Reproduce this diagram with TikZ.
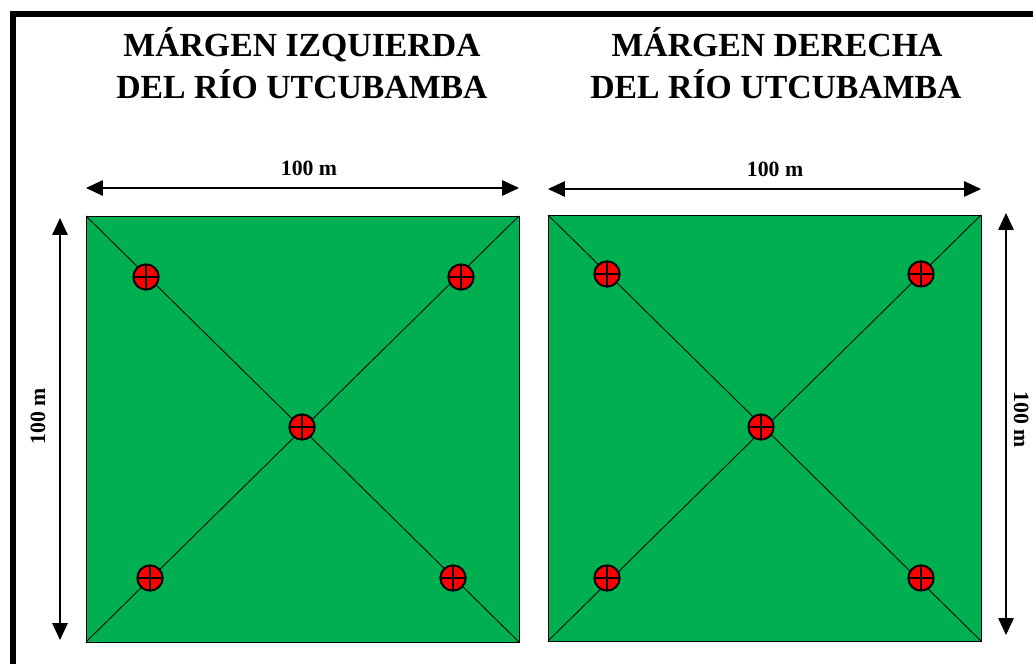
\documentclass[tikz,border=0pt]{standalone}
\usepackage{fontspec}
\setmainfont{Liberation Serif}
\usetikzlibrary{arrows.meta}
\definecolor{fieldgreen}{RGB}{0,176,80}

\begin{document}
\begin{tikzpicture}[x=0.025cm,y=-0.025cm,>={Triangle[length=12pt,width=11pt]},
	title node/.style={font=\fontsize{24}{30}\selectfont\bfseries,anchor=base,inner sep=0pt},
	size node/.style={font=\fontsize{15.5}{18}\selectfont\bfseries,anchor=base,inner sep=0pt},
	point node/.style={circle,draw,fill=red,line width=1.4pt,minimum size=18pt,inner sep=0pt,
		path picture={\draw[line width=1.3pt] (path picture bounding box.north) -- (path picture bounding box.south)
			(path picture bounding box.west) -- (path picture bounding box.east);}},
	plot line/.style={line width=0.6pt},
	dim line/.style={<->,line width=0.8pt}]
	
	\useasboundingbox (0,0) rectangle (1033,664);
	\draw[line width=4.3pt] (13,680) -- (13,14) -- (1050,14);
	
	% titles
	\node[title node] (titleL) at (302,56) {MÁRGEN IZQUIERDA};
	\node[title node] (titleLb) at (302,98) {DEL RÍO UTCUBAMBA};
	\node[title node] (titleR) at (777,56) {MÁRGEN DERECHA};
	\node[title node] (titleRb) at (776,98) {DEL RÍO UTCUBAMBA};
	
	% left plot
	\draw[plot line,fill=fieldgreen] (86,216) coordinate (lnw) rectangle (519,642) coordinate (lse);
	\coordinate (lne) at (519,216);
	\coordinate (lsw) at (86,642);
	\draw[plot line] (lnw) -- (lse) (lne) -- (lsw);
	\node[point node] (l1) at (146,277) {};
	\node[point node] (l2) at (461,277) {};
	\node[point node] (l3) at (302,427) {};
	\node[point node] (l4) at (150,578) {};
	\node[point node] (l5) at (453,578) {};
	
	% right plot
	\draw[plot line,fill=fieldgreen] (548,215) coordinate (rnw) rectangle (981,641) coordinate (rse);
	\coordinate (rne) at (981,215);
	\coordinate (rsw) at (548,641);
	\draw[plot line] (rnw) -- (rse) (rne) -- (rsw);
	\node[point node] (r1) at (607,274) {};
	\node[point node] (r2) at (921,274) {};
	\node[point node] (r3) at (761,427) {};
	\node[point node] (r4) at (607,578) {};
	\node[point node] (r5) at (921,578) {};
	
	% dimensions
	\coordinate (lw1) at (86,188);
	\coordinate (lw2) at (519,188);
	\coordinate (lh1) at (60,218);
	\coordinate (lh2) at (60,640);
	\coordinate (rw1) at (548,189);
	\coordinate (rw2) at (981,189);
	\coordinate (rh1) at (1006,213);
	\coordinate (rh2) at (1006,635);
	\draw[dim line] (lw1) -- (lw2);
	\draw[dim line] (lh1) -- (lh2);
	\draw[dim line] (rw1) -- (rw2);
	\draw[dim line] (rh1) -- (rh2);
	\node[size node] (lwidth) at (309,175) {100 m};
	\node[size node,rotate=90] (lheight) at (45,416) {100 m};
	\node[size node] (rwidth) at (775,176) {100 m};
	\node[size node,rotate=-90] (rheight) at (1014,420) {100 m};
\end{tikzpicture}
\end{document}
